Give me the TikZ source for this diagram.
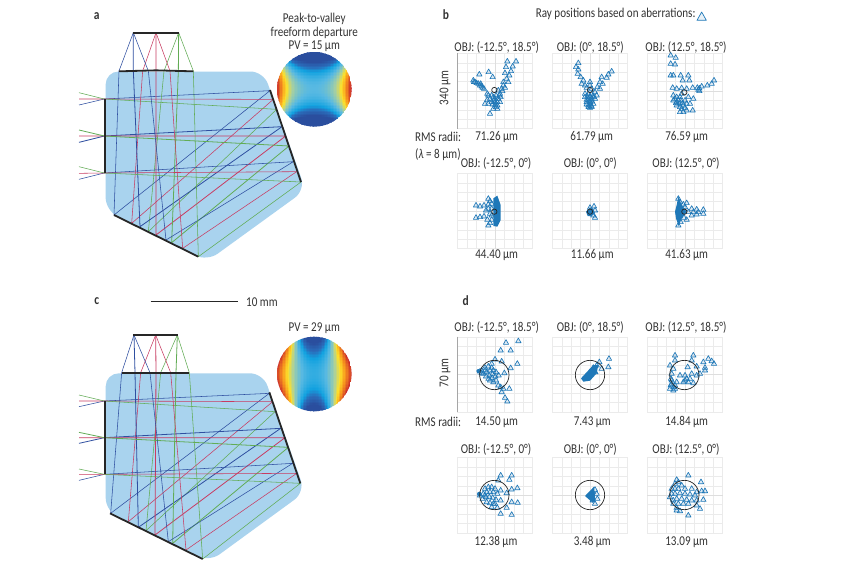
\documentclass[tikz,border=0pt]{standalone}
\usepackage{fontspec}
\setmainfont[FakeStretch=0.82]{Carlito}
\definecolor{rb}{HTML}{2F4FA0}
\definecolor{rr}{HTML}{C83C62}
\definecolor{rg}{HTML}{62AC55}
\definecolor{lens}{HTML}{A9D3EE}
\definecolor{ink}{HTML}{333333}
\definecolor{tri}{HTML}{1F78B8}
\definecolor{ca}{HTML}{2A4E9E}
\definecolor{cb}{HTML}{2A6CBA}
\definecolor{cc1}{HTML}{12A2E0}
\definecolor{cd}{HTML}{58B9E2}
\definecolor{ce}{HTML}{A8D0A0}
\definecolor{cf}{HTML}{FDE02A}
\definecolor{cg}{HTML}{F7941D}
\definecolor{ch}{HTML}{C8252C}
\tikzset{
 txt/.style={text=ink,font=\fontsize{13.5}{14}\selectfont,inner sep=0pt},
 lbl/.style={text=ink,font=\bfseries\fontsize{14}{15}\selectfont,inner sep=0pt},
 ray/.style={line width=.55pt,line join=round},
 thick bar/.style={line width=1.8pt,color=black!85},
 gridline/.style={line width=.4pt,color=black!8},
 gridmid/.style={line width=.5pt,color=black!13},
 axisline/.style={line width=.6pt,color=black!35},
 trimark/.style={draw=tri,line width=.65pt,fill=tri,fill opacity=.15,line join=round},
 blob/.style={fill=tri,draw=none},
 centre/.style={draw=black!85,line width=.7pt},
}
\newcommand\setcc[1]{%
 \pgfmathsetmacro\zz{max(0,min(1,#1))}%
 \ifdim\zz pt<.12pt \pgfmathsetmacro\pp{100*(.12-\zz)/.12}\colorlet{cc}{ca!\pp!cb}%
 \else\ifdim\zz pt<.2pt \pgfmathsetmacro\pp{100*(.2-\zz)/.08}\colorlet{cc}{cb!\pp!cc1}%
 \else\ifdim\zz pt<.33pt \pgfmathsetmacro\pp{100*(.33-\zz)/.13}\colorlet{cc}{cc1!\pp!cd}%
 \else\ifdim\zz pt<.47pt \pgfmathsetmacro\pp{100*(.47-\zz)/.14}\colorlet{cc}{cd!\pp!ce}%
 \else\ifdim\zz pt<.6pt \pgfmathsetmacro\pp{100*(.6-\zz)/.13}\colorlet{cc}{ce!\pp!cf}%
 \else\ifdim\zz pt<.75pt \pgfmathsetmacro\pp{100*(.75-\zz)/.15}\colorlet{cc}{cf!\pp!cg}%
 \else \pgfmathsetmacro\pp{100*(1-\zz)/.25}\colorlet{cc}{cg!\pp!ch}%
 \fi\fi\fi\fi\fi\fi}
\newcommand\freeform[3]{%
 \begin{scope}
 \clip (#1,#2) circle (37.3);
 \foreach \i in {-25,...,25}{\foreach \j in {-25,...,25}{%
  \pgfmathsetmacro\X{\i/25}\pgfmathsetmacro\Y{\j/25}%
  \setcc{#3}%
  \fill[cc] (#1+\i*1.5-.9,#2+\j*1.5-.9) rectangle ++(1.8,1.8);
 }}
 \end{scope}}
\newcommand\plotgrid[3]{%
 \foreach \k in {0,...,8}{
  \draw[gridline] (#1+\k*9.4,#2)--++(0,75.2);
  \draw[gridline] (#1,#2+\k*9.4)--++(75.2,0);}
 \draw[gridmid] (#1+37.6,#2)--++(0,75.2);
 \draw[gridmid] (#1,#2+37.6)--++(75.2,0);
 \ifnum#3=1 \draw[axisline] (#1,#2)--++(0,75.2);\fi}
\newcommand\tris[1]{\foreach \p in {#1}{\draw[trimark] \p ++(-8,6)--++(16,0)--++(-8,-14)--cycle;}}
\begin{document}
\begin{tikzpicture}[x=1pt,y=-1pt]
\useasboundingbox (0,0) rectangle (850,566);
\fill[white] (0,0) rectangle (850,566);
%% ---------- panel a
\fill[lens,rounded corners=13pt] (105.6,71.5)--(263.5,71.5)--(305.5,190)--(207,261.4)--(105.6,210.5)--cycle;
\begin{scope}[shift={(70,0)},x=.33333pt,y=-.33333pt]
 \draw[ray,rb] (27,315)--(103,297)--(600,272)--(132,645)--(147,213)--(190,98);
 \draw[ray,rr] (27,297)--(103,297)--(610,298)--(185,670)--(218,213)--(258,98);
 \draw[ray,rg] (27,278)--(103,297)--(620,328)--(235,695)--(282,213)--(326,98);
 \draw[ray,rb,line width=.8pt] (27,427)--(103,408)--(636,380)--(210,680)--(190,213)--(190,98);
 \draw[ray,rr,line width=.8pt] (27,408)--(103,408)--(647,408)--(258,705)--(258,213)--(258,98);
 \draw[ray,rg,line width=.8pt] (27,390)--(103,408)--(657,438)--(305,728)--(325,213)--(326,98);
 \draw[ray,rb] (27,538)--(103,519)--(670,485)--(288,720)--(235,213)--(190,98);
 \draw[ray,rr] (27,520)--(103,519)--(680,515)--(338,745)--(300,213)--(258,98);
 \draw[ray,rg] (27,500)--(103,519)--(693,546)--(385,770)--(370,213)--(326,98);
 \draw[thick bar] (188,98)--(328,98);
 \draw[thick bar] (147,214)--(258,211)--(370,214);
 \draw[thick bar] (105,297)--(105,519);
 \draw[thick bar] (600,270)--(693,546);
 \draw[thick bar] (132,645)--(385,770);
\end{scope}
\freeform{314.3}{89.3}{.33+.3*\X*\X+.4*\X*\X*\X*\X-.65*\Y*\Y}
\node[lbl] (la) at (96.7,16) {a};
\node[txt] (pk1) at (314.3,19) {Peak-to-valley};
\node[txt] (pk2) at (314.3,33) {freeform departure};
\node[txt] (pk3) at (314.3,46.7) {PV = 15 µm};
%% ---------- panel c
\fill[lens,rounded corners=13pt] (105.7,373.3)--(263,373.3)--(305,492)--(209,562)--(105.7,511)--cycle;
\begin{scope}[shift={(70,290)},x=.33333pt,y=-.33333pt]
 \draw[ray,rb] (27,350)--(103,333)--(598,310)--(122,670)--(155,248)--(192,135);
 \draw[ray,rr] (27,333)--(103,333)--(608,335)--(175,695)--(212,248)--(257,135);
 \draw[ray,rg] (27,315)--(103,333)--(615,365)--(228,722)--(272,248)--(322,135);
 \draw[ray,rb,line width=.8pt] (27,460)--(103,443)--(632,415)--(205,712)--(195,248)--(192,135);
 \draw[ray,rr,line width=.8pt] (27,443)--(103,443)--(645,443)--(255,735)--(258,248)--(257,135);
 \draw[ray,rg,line width=.8pt] (27,427)--(103,443)--(655,472)--(308,760)--(318,248)--(322,135);
 \draw[ray,rb] (27,571)--(103,553)--(668,520)--(295,755)--(240,248)--(192,135);
 \draw[ray,rr] (27,553)--(103,553)--(680,550)--(348,780)--(302,248)--(257,135);
 \draw[ray,rg] (27,537)--(103,553)--(691,580)--(398,807)--(358,248)--(322,135);
 \draw[thick bar] (190,135)--(324,135);
 \draw[thick bar] (155,248)--(358,248);
 \draw[thick bar] (105,333)--(105,553);
 \draw[thick bar] (598,307)--(691,580);
 \draw[thick bar] (120,670)--(398,807);
\end{scope}
\freeform{314.3}{374}{.26+.7*\X*\X-.4*\Y*\Y+1.6*\X*\X*\Y*\Y}
\node[lbl] (lc) at (96.7,301.5) {c};
\node[txt] (pk4) at (314.3,327.7) {PV = 29 µm};
\coordinate (sbL) at (150.7,301.7);
\coordinate (sbR) at (238.3,301.7);
\draw[line width=.9pt,color=black!85] (sbL)--(sbR);
\node[txt,anchor=west] (sbt) at (246,301.7) {10 mm};
%% ---------- grids
\plotgrid{457.3}{53.3}{1}\plotgrid{552.3}{53.3}{0}\plotgrid{647.3}{53.3}{0}
\plotgrid{457.3}{173.3}{0}\plotgrid{552.3}{173.3}{0}\plotgrid{647.3}{173.3}{0}
\plotgrid{457.3}{336.7}{1}\plotgrid{552.3}{336.7}{0}\plotgrid{647.3}{336.7}{0}
\plotgrid{457.3}{457.5}{0}\plotgrid{552.3}{457.5}{0}\plotgrid{647.3}{457.5}{0}
%% ---------- row 1 scatter
\begin{scope}[shift={(410,0)},x=.33333pt,y=-.33333pt]
 \tris{(292,183),(318,183),(288,200),(308,198),(303,212),(285,218),(298,225),(208,222),(236,215),(248,230),(190,240),(195,245),(205,250),(215,258),(222,265),(212,250),(295,245),(280,255),(275,265),(270,280),(265,270),(235,285),(240,295),(250,290),(258,285),(265,295),(272,290),(225,310),(235,310),(245,305),(255,305),(262,315),(270,305),(240,340),(250,325),(258,320),(280,245),(290,235),(232,280),(252,300),(262,325),(192,245),(200,248),(210,255),(218,262),(245,285),(255,295),(262,305),(248,312),(256,312),(268,285),(277,272),(285,262),(232,298)}
 \tris{(505,188),(498,200),(505,207),(503,220),(512,230),(520,240),(515,250),(525,255),(530,262),(605,213),(595,222),(590,232),(575,230),(570,245),(578,250),(562,260),(570,265),(555,275),(560,285),(540,245),(540,255),(545,265),(525,280),(535,280),(545,280),(525,290),(535,295),(545,295),(555,295),(530,305),(540,305),(550,310),(535,315),(545,320),(540,322),(530,312),(552,290),(532,288),(540,288),(548,288),(538,300),(546,303),(530,298),(536,320),(544,316),(540,312)}
 \tris{(782,165),(797,172),(782,190),(795,192),(782,225),(790,225),(812,225),(835,225),(818,240),(838,240),(788,262),(800,265),(815,263),(848,262),(868,272),(862,262),(875,258),(892,255),(905,250),(912,240),(865,268),(830,265),(835,290),(850,295),(790,285),(800,290),(810,290),(790,300),(800,305),(812,300),(825,300),(840,310),(800,315),(810,320),(820,315),(830,330),(848,330),(810,335),(820,335),(830,310),(815,280),(795,295),(805,298),(818,308),(808,310),(798,308),(815,325),(825,322),(868,264)}
 \foreach \c in {(253,270),(540,270),(823,277)}{\draw[centre] \c circle (8);}
 \draw[trimark,line width=.7pt,fill opacity=.1] (861,61)--(889,61)--(875,36)--cycle;
\end{scope}
%% ---------- row 2 scatter
\begin{scope}[shift={(410,130)},x=.33333pt,y=-.33333pt]
 \fill[blob] (262,197)--(272,225)--(272,270)--(262,290)--(250,288)--(250,205)--cycle;
 \tris{(198,225),(210,228),(222,225),(235,205),(240,212),(245,220),(235,222),(198,262),(210,260),(222,258),(235,285),(240,278),(245,268),(235,235),(240,250),(228,240),(245,235),(245,255),(232,268)}
 \fill[blob] (540,232)--(550,238)--(555,250)--(545,258)--(533,258)--(528,245)--cycle;
 \tris{(552,228),(555,240),(555,262),(550,255),(540,232)}
 \fill[blob] (805,200)--(815,225)--(830,245)--(815,265)--(806,288)--(798,265)--(795,245)--(800,225)--cycle;
 \tris{(805,205),(810,215),(830,218),(825,230),(845,235),(860,237),(880,238),(880,250),(860,252),(845,255),(830,268),(805,285),(812,275),(835,245),(850,245),(865,245),(820,222),(822,262)}
 \foreach \c in {(253,245),(540,245),(823,245)}{\draw[centre] \c circle (8);}
\end{scope}
%% ---------- row 3 scatter
\begin{scope}[shift={(410,290)},x=.33333pt,y=-.33333pt]
 \fill[blob] (205,243) circle (6);
 \tris{(288,157),(325,152),(272,180),(302,180),(322,220),(302,233),(255,207),(275,213),(283,248),(215,240),(225,232),(235,228),(245,232),(220,250),(230,245),(240,240),(250,240),(228,258),(238,255),(248,250),(258,245),(236,265),(246,262),(256,258),(266,255),(250,275),(258,270),(265,285),(272,290),(280,295),(298,295),(275,305),(285,322),(292,333),(210,243),(225,240),(215,248),(245,220),(240,270)}
 \fill[blob] (513,265)--(525,252)--(550,225)--(565,225)--(560,250)--(540,272)--(520,275)--cycle;
 \tris{(597,205),(595,230),(568,215),(575,235),(560,225),(550,232),(556,245),(540,245)}
 \tris{(795,195),(850,195),(795,210),(845,210),(780,225),(790,235),(880,215),(895,205),(905,212),(912,220),(885,232),(885,240),(870,250),(833,230),(860,228),(810,255),(825,255),(845,250),(830,265),(820,275),(835,275),(850,278),(785,250),(783,265),(785,280),(790,290),(780,295),(790,300),(795,285),(800,275),(860,255),(825,270),(840,265),(785,270),(795,295),(782,285)}
 \foreach \c in {(253,255),(540,255),(823,255)}{\draw[centre] \c circle (44);}
\end{scope}
%% ---------- row 4 scatter
\begin{scope}[shift={(410,420)},x=.33333pt,y=-.33333pt]
 \fill[blob] (208,222) circle (7);
 \tris{(272,165),(305,165),(265,180),(298,178),(322,203),(305,207),(290,218),(323,247),(305,245),(290,262),(272,280),(305,283),(262,262),(210,225),(225,205),(235,200),(245,200),(255,205),(220,220),(230,215),(240,215),(250,215),(262,220),(272,210),(218,235),(228,230),(238,230),(248,232),(258,238),(272,240),(230,245),(240,248),(250,250),(245,260),(255,250),(225,225)}
 \fill[blob] (525,228)--(552,200)--(556,240)--(548,248)--cycle;
 \tris{(555,208),(560,220),(562,235),(555,250),(548,215),(548,240)}
 \tris{(835,165),(800,178),(873,185),(815,195),(845,205),(885,212),(860,215),(880,238),(860,240),(870,265),(835,285),(800,270),(785,220),(790,240),(795,190),(805,185),(785,205),(795,205),(805,205),(825,205),(795,220),(810,218),(825,220),(840,222),(855,225),(800,235),(815,235),(830,238),(845,240),(790,250),(805,250),(820,250),(835,250),(800,262),(810,272),(860,255),(875,212),(780,230)}
 \foreach \c in {(253,225),(540,225),(823,225)}{\draw[centre] \c circle (44);}
\end{scope}
%% ---------- text
\node[lbl] (lb) at (446,15) {b};
\node[lbl] (ld) at (465.7,301) {d};
\node[txt] (ray) at (615.7,14) {Ray positions based on aberrations:};
\node[txt] (o11) at (496.7,47) {OBJ: (-12.5°, 18.5°)};
\node[txt] (o12) at (590.3,47) {OBJ: (0°, 18.5°)};
\node[txt] (o13) at (686,47) {OBJ: (12.5°, 18.5°)};
\node[txt,rotate=90] (s1) at (445,88) {340 µm};
\node[txt,anchor=west] (rms1) at (415,137.3) {RMS radii:};
\node[txt,anchor=west] (lam) at (415,155) {(\textit{λ} = 8 µm)};
\node[txt] (v11) at (496.7,137.3) {71.26 µm};
\node[txt] (v12) at (591.7,137.3) {61.79 µm};
\node[txt] (v13) at (686.7,137.3) {76.59 µm};
\node[txt] (o21) at (496,163.3) {OBJ: (-12.5°, 0°)};
\node[txt] (o22) at (590.3,163.3) {OBJ: (0°, 0°)};
\node[txt] (o23) at (686,163.3) {OBJ: (12.5°, 0°)};
\node[txt] (v21) at (496.7,255) {44.40 µm};
\node[txt] (v22) at (592.3,255) {11.66 µm};
\node[txt] (v23) at (686.7,255) {41.63 µm};
\node[txt] (o31) at (496.7,327.3) {OBJ: (-12.5°, 18.5°)};
\node[txt] (o32) at (590.3,327.3) {OBJ: (0°, 18.5°)};
\node[txt] (o33) at (686,327.3) {OBJ: (12.5°, 18.5°)};
\node[txt,rotate=90] (s2) at (445,373) {70 µm};
\node[txt,anchor=west] (rms2) at (415,421.7) {RMS radii:};
\node[txt] (v31) at (496.7,421.7) {14.50 µm};
\node[txt] (v32) at (592.3,421.7) {7.43 µm};
\node[txt] (v33) at (686.7,421.7) {14.84 µm};
\node[txt] (o41) at (496,449) {OBJ: (-12.5°, 0°)};
\node[txt] (o42) at (590.3,449) {OBJ: (0°, 0°)};
\node[txt] (o43) at (686,449) {OBJ: (12.5°, 0°)};
\node[txt] (v41) at (496,541.7) {12.38 µm};
\node[txt] (v42) at (592.3,541.7) {3.48 µm};
\node[txt] (v43) at (686.7,541.7) {13.09 µm};
\end{tikzpicture}
\end{document}
